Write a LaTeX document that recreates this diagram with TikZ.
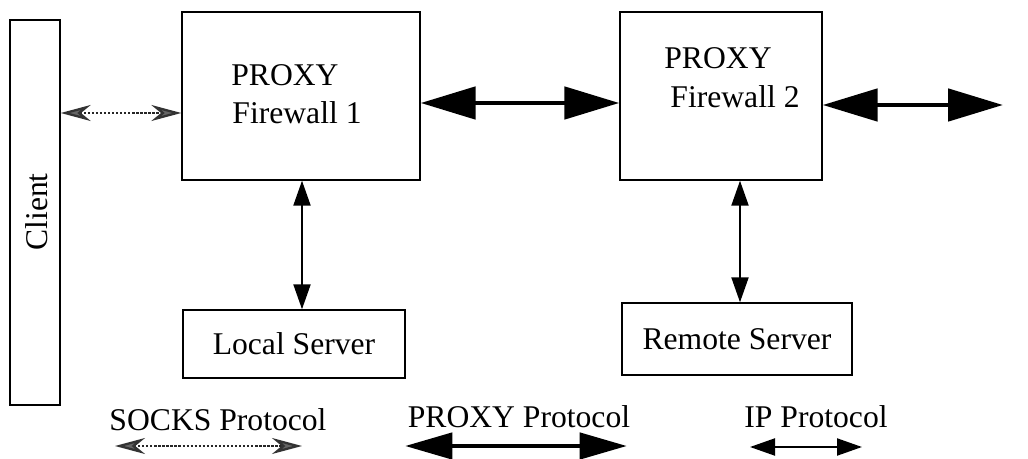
\documentclass[tikz,border=0pt]{standalone}
\usepackage{fontspec}
\setmainfont{Liberation Serif}
\usetikzlibrary{arrows.meta}
\tikzset{
  box/.style={draw,line width=0.8pt,inner sep=0pt},
  lbl/.style={font=\fontsize{18}{21}\selectfont},
  proxyarrow/.style={line width=2.8pt,{Triangle[length=1.1cm,width=0.64cm]}-{Triangle[length=1.1cm,width=0.64cm]}},
  iparrow/.style={line width=1.2pt,{Triangle[length=0.5cm,width=0.34cm]}-{Triangle[length=0.5cm,width=0.34cm]}},
  socksarrow/.style={line width=1.3pt,densely dotted,black!85,{Stealth[length=0.6cm,width=0.32cm,black!80,fill=black!60]}-{Stealth[length=0.6cm,width=0.32cm,black!80,fill=black!60]}}
}
\begin{document}
\begin{tikzpicture}[x=0.02cm,y=-0.02cm]
        \useasboundingbox (0,0) rectangle (1028,459);
        % boxes
        \node[box,minimum width=1cm,minimum height=7.7cm] (client) at (35,212.5){};
        \node[lbl,rotate=90] (clienttxt) at (37,212){Client};
        \node[box,minimum width=4.76cm,minimum height=3.36cm] (fw1) at (301,96){};
        \node[lbl] (proxy1) at (285,75){PROXY};
        \node[lbl] (fwtxt1) at (297,113){Firewall 1};
        \node[box,minimum width=4.04cm,minimum height=3.36cm] (fw2) at (721,96){};
        \node[lbl] (proxy2) at (718,58){PROXY};
        \node[lbl] (fwtxt2) at (735,97){Firewall 2};
        \node[box,minimum width=4.44cm,minimum height=1.36cm,lbl] (local) at (294,344){Local Server};
        \node[box,minimum width=4.6cm,minimum height=1.44cm,lbl] (remote) at (737,339){\raisebox{-3pt}{Remote Server}};
        % connectors
        \draw[socksarrow] (client.east |- 0,113) -- (fw1.west |- 0,113);
        \draw[proxyarrow] (fw1.east |- 0,103) -- (fw2.west |- 0,103);
        \coordinate (out) at (1003,105);
        \draw[proxyarrow] (fw2.east |- 0,105) -- (out);
        \draw[iparrow] (fw1.south -| 302,0) -- (local.north -| 302,0);
        \draw[iparrow] (fw2.south -| 740,0) -- (remote.north -| 740,0);
        % legend
        \node[lbl] (socks) at (218,420){SOCKS Protocol};
        \node[lbl] (proxyp) at (519,417){PROXY Protocol};
        \node[lbl] (ipp) at (816,417){IP Protocol};
        \coordinate (s1) at (115,446);
        \coordinate (s2) at (302,446);
        \coordinate (p1) at (405,446);
        \coordinate (p2) at (627,446);
        \coordinate (i1) at (750,447);
        \coordinate (i2) at (862,447);
        \draw[socksarrow] (s1) -- (s2);
        \draw[proxyarrow,{Triangle[length=0.95cm,width=0.52cm]}-{Triangle[length=0.95cm,width=0.52cm]}] (p1) -- (p2);
        \draw[iparrow] (i1) -- (i2);
\end{tikzpicture}
\end{document}
